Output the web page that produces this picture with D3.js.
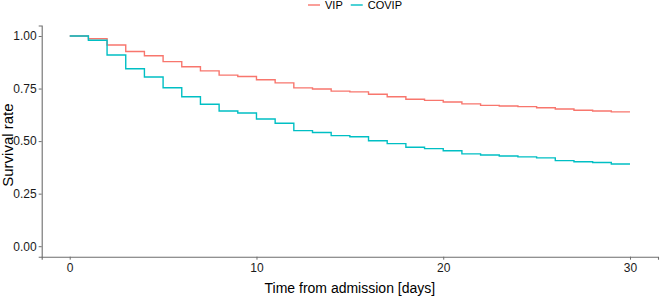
<!DOCTYPE html>
<html>
<head>
<meta charset="utf-8">
<script src="https://cdn.jsdelivr.net/npm/d3@7"></script>
<style>
  body { margin: 0; background: #fff; }
  svg { display: block; font-family: "Liberation Sans", Arial, sans-serif; }
</style>
</head>
<body>
<div class="chart"></div>
<script>
// survival estimate at the start of each day (step after)
const days = d3.range(0, 31);
const vip = [1.000, 0.987, 0.957, 0.926, 0.906, 0.878, 0.854, 0.834, 0.814, 0.807,
  0.792, 0.777, 0.753, 0.748, 0.738, 0.734, 0.723, 0.711, 0.699, 0.694,
  0.686, 0.677, 0.670, 0.667, 0.664, 0.659, 0.653, 0.647, 0.643, 0.639, 0.639];
const covip = [1.000, 0.980, 0.910, 0.844, 0.805, 0.754, 0.711, 0.675, 0.643, 0.634,
  0.605, 0.585, 0.550, 0.541, 0.526, 0.521, 0.502, 0.488, 0.471, 0.464,
  0.454, 0.439, 0.434, 0.429, 0.425, 0.420, 0.407, 0.402, 0.398, 0.391, 0.391];
const groups = ["VIP", "COVIP"];
const colors = ["#F8766D", "#00BFC4"];
const xTicks = [0, 10, 20, 30];
const yTicks = [0, 0.25, 0.5, 0.75, 1];

const W = 660, H = 298;
const margin = { top: 25.5, right: 2, bottom: 41.3, left: 41.7 };

const svg = d3.select(".chart").append("svg")
  .attr("width", W)
  .attr("height", H);

const x = d3.scaleLinear()
  .domain([-1.5, 31.5])
  .range([margin.left, W - margin.right]);

const y = d3.scaleLinear()
  .domain([-0.05, 1.05])
  .range([H - margin.bottom, margin.top]);

// axes
const xAxis = svg.append("g")
  .attr("transform", `translate(0,${H - margin.bottom})`)
  .call(d3.axisBottom(x).tickValues(xTicks).tickSize(3).tickPadding(4));

const yAxis = svg.append("g")
  .attr("transform", `translate(${margin.left},0)`)
  .call(d3.axisLeft(y).tickValues(yTicks).tickFormat(d3.format(".2f")).tickSize(3).tickPadding(2));

[xAxis, yAxis].forEach((g) => {
  g.select(".domain").attr("stroke", "#6e6e6e").attr("stroke-width", 1.1);
  g.selectAll(".tick line").attr("stroke", "#6e6e6e");
  g.selectAll(".tick text").attr("fill", "#1a1a1a").attr("font-size", 12);
});

// curves
const line = d3.line()
  .x((d) => x(d[0]))
  .y((d) => y(d[1]))
  .curve(d3.curveStepAfter);

[vip, covip].forEach((vals, i) => {
  svg.append("path")
    .datum(days.map((d, k) => [d, vals[k]]))
    .attr("fill", "none")
    .attr("stroke", colors[i])
    .attr("stroke-width", 1.4)
    .attr("d", line);
});

// axis titles
svg.append("text")
  .attr("x", (x(-1.5) + x(31.5)) / 2)
  .attr("y", 293)
  .attr("text-anchor", "middle")
  .attr("font-size", 14)
  .attr("fill", "#000")
  .text("Time from admission [days]");

svg.append("text")
  .attr("transform", `translate(13,${(y(-0.05) + y(1.05)) / 2 + 4}) rotate(-90)`)
  .attr("text-anchor", "middle")
  .attr("font-size", 15)
  .attr("fill", "#000")
  .text("Survival rate");

// legend
const legend = svg.append("g").attr("transform", "translate(308,5)");
let lx = 0;
groups.forEach((g, i) => {
  legend.append("line")
    .attr("x1", lx).attr("x2", lx + 12)
    .attr("y1", 0).attr("y2", 0)
    .attr("stroke", colors[i])
    .attr("stroke-width", 1.4);
  const t = legend.append("text")
    .attr("x", lx + 17)
    .attr("y", 4)
    .attr("font-size", 11)
    .attr("fill", "#000")
    .text(g);
  lx += 17 + t.node().getComputedTextLength() + 8;
});
</script>
</body>
</html>
